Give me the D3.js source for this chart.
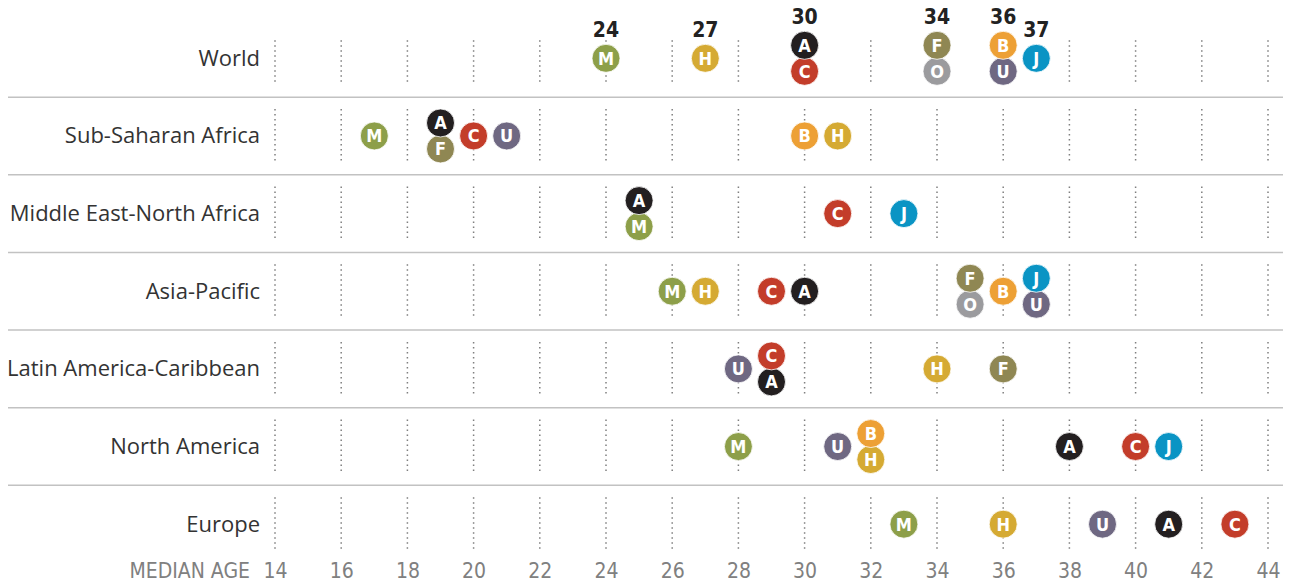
<!DOCTYPE html>
<html>
<head>
<meta charset="utf-8">
<script src="https://cdn.jsdelivr.net/npm/d3@7"></script>
<style>
  body { margin: 0; background: #fff; }
  svg { display: block; }
  .row-label { font-family: "Open Sans", "Liberation Sans", Arial, sans-serif; font-size: 22px; fill: #333; }
  .tick-label, .axis-title { font-family: "Liberation Sans Narrow", "DejaVu Sans Condensed", sans-serif; font-size: 21px; fill: #808080; }
  .value-label { font-family: "Liberation Sans Narrow", "DejaVu Sans Condensed", sans-serif; font-size: 21px; font-weight: bold; fill: #222; }
  .dot-letter { font-family: "Liberation Sans Narrow", "DejaVu Sans Condensed", sans-serif; font-size: 18px; font-weight: bold; fill: #fff; }
</style>
</head>
<body>
<div class="chart"></div>
<script>
// rows, top to bottom
const regions = [ 'World', 'Sub-Saharan Africa', 'Middle East-North Africa', 'Asia-Pacific',
  'Latin America-Caribbean', 'North America', 'Europe', ];

// religious groups and their colours
const groups = [ 'C', 'M', 'U', 'H', 'B', 'F', 'O', 'J', 'A', ];
const groupColors = [ '#c33d2a', '#8d9f49', '#6f6882', '#d5aa33', '#eda035', '#8f8753', '#9b9b9e', '#0a94c4', '#231f20', ];

// median age per group, per region (listed top first where two share an age)
const world = [ [ 'M', 24 ], [ 'H', 27 ], [ 'A', 30 ], [ 'C', 30 ], [ 'F', 34 ], [ 'O', 34 ], [ 'B', 36 ], [ 'U', 36 ], [ 'J', 37 ], ];
const subSaharan = [ [ 'M', 17 ], [ 'A', 19 ], [ 'F', 19 ], [ 'C', 20 ], [ 'U', 21 ], [ 'B', 30 ], [ 'H', 31 ], ];
const mena = [ [ 'A', 25 ], [ 'M', 25 ], [ 'C', 31 ], [ 'J', 33 ], ];
const asiaPacific = [ [ 'M', 26 ], [ 'H', 27 ], [ 'C', 29 ], [ 'A', 30 ], [ 'F', 35 ], [ 'O', 35 ], [ 'B', 36 ], [ 'J', 37 ], [ 'U', 37 ], ];
const latinAmerica = [ [ 'U', 28 ], [ 'C', 29 ], [ 'A', 29 ], [ 'H', 34 ], [ 'F', 36 ], ];
const northAmerica = [ [ 'M', 28 ], [ 'U', 31 ], [ 'B', 32 ], [ 'H', 32 ], [ 'A', 38 ], [ 'C', 40 ], [ 'J', 41 ], ];
const europe = [ [ 'M', 33 ], [ 'H', 36 ], [ 'U', 39 ], [ 'A', 41 ], [ 'C', 43 ], ];
const regionData = [ world, subSaharan, mena, asiaPacific, latinAmerica, northAmerica, europe, ];

const ageTicks = [ 14, 16, 18, 20, 22, 24, 26, 28, 30, 32, 34, 36, 38, 40, 42, 44, ];

const width = 1291;
const height = 584;
const r = 14;
const stackOffset = 13;

const svg = d3.select('.chart').append('svg')
  .attr('width', width)
  .attr('height', height);

// scales
const x = d3.scaleLinear()
  .domain([ 14, 44 ])
  .range([ 275, 1268 ]);

const y = d3.scaleBand()
  .domain(regions)
  .range([ 19.5, 563 ]);

const color = d3.scaleOrdinal()
  .domain(groups)
  .range(groupColors);

// separators between rows
svg.append('g')
  .selectAll('line')
  .data(regions.slice(1))
  .join('line')
    .attr('x1', 8)
    .attr('x2', 1283)
    .attr('y1', d => y(d))
    .attr('y2', d => y(d))
    .attr('stroke', '#c2c2c2')
    .attr('stroke-width', 1.5);

// dotted gridlines per row
regions.forEach((region, ri) => {
  const cy = y(region) + y.bandwidth() / 2;
  const top = ri === 0 ? cy - 18 : cy - 27;
  svg.append('g')
    .selectAll('line')
    .data(ageTicks)
    .join('line')
      .attr('x1', d => x(d))
      .attr('x2', d => x(d))
      .attr('y1', top)
      .attr('y2', cy + 27)
      .attr('stroke', '#7f7f7f')
      .attr('stroke-width', 1.5)
      .attr('stroke-dasharray', '1.5,3.5');
});

// row labels
svg.append('g')
  .selectAll('text')
  .data(regions)
  .join('text')
    .attr('class', 'row-label')
    .attr('x', 260)
    .attr('y', d => y(d) + y.bandwidth() / 2 + 7.5)
    .attr('text-anchor', 'end')
    .text(d => d);

// dots
regions.forEach((region, ri) => {
  const cy = y(region) + y.bandwidth() / 2;
  const rows = regionData[ri];
  const counts = d3.rollup(rows, v => v.length, d => d[1]);
  const seen = new Map();
  const points = rows.map(([ g, age ]) => {
    const n = counts.get(age);
    const k = seen.get(age) || 0;
    seen.set(age, k + 1);
    const slot = n > 1 ? (k === 0 ? -1 : 1) : 0;
    return { g, age, slot, cy: cy + slot * stackOffset };
  });
  // bottom circles first so the top one sits over it
  points.sort((a, b) => d3.descending(a.slot, b.slot));

  const dot = svg.append('g')
    .selectAll('g')
    .data(points)
    .join('g')
      .attr('transform', d => `translate(${x(d.age)},${d.cy})`);

  dot.append('circle')
    .attr('r', r)
    .attr('fill', d => color(d.g))
    .attr('stroke', '#fff')
    .attr('stroke-width', 0.8);

  dot.append('text')
    .attr('class', 'dot-letter')
    .attr('text-anchor', 'middle')
    .attr('dy', '0.36em')
    .text(d => d.g);

  // world row gets its values written above
  if (ri === 0) {
    const tops = d3.rollups(points, v => d3.min(v, d => d.cy), d => d.age);
    svg.append('g')
      .selectAll('text')
      .data(tops)
      .join('text')
        .attr('class', 'value-label')
        .attr('x', d => x(d[0]))
        .attr('y', d => d[1] - r - 7)
        .attr('text-anchor', 'middle')
        .text(d => d[0]);
  }
});

// bottom axis
const axis = svg.append('g')
  .attr('transform', 'translate(0,578)')
  .call(d3.axisBottom(x).tickValues(ageTicks).tickSize(0).tickPadding(0));
axis.select('.domain').remove();
axis.selectAll('text')
  .attr('class', 'tick-label')
  .attr('dy', null)
  .attr('y', 0)
  .attr('fill', null)
  .attr('font-size', null)
  .attr('font-family', null);

svg.append('text')
  .attr('class', 'axis-title')
  .attr('x', 250)
  .attr('y', 578)
  .attr('text-anchor', 'end')
  .text('MEDIAN AGE');
</script>
</body>
</html>
